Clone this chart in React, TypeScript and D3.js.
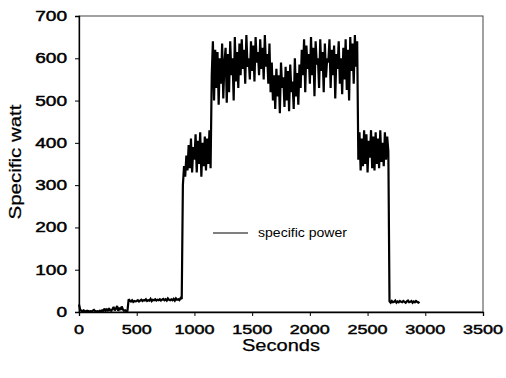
import React, { useEffect, useRef } from "react";
import * as d3 from "d3";

// specific power, one reading every 10 s starting at t = 0
const sampleStep = 10;
const watts = [
  18, 6, 3, 2, 4, 2, 1, 3, 2, 1,
  2, 1, 3, 5, 2, 1, 2, 1, 3, 2,
  4, 2, 8, 3, 6, 2, 9, 4, 3, 7,
  12, 4, 8, 14, 3, 10, 5, 13, 6, 3,
  4, 2, 3, 30, 27, 25, 28, 24, 26, 25,
  26, 28, 25, 27, 29, 26, 28, 27, 30, 26,
  28, 27, 31, 26, 29, 28, 30, 27, 29, 28,
  30, 27, 29, 31, 28, 30, 27, 32, 29, 28,
  30, 28, 31, 27, 32, 29, 30, 28, 33, 31,
  300, 345, 320, 370, 335, 395, 340, 410, 330, 390,
  360, 420, 330, 405, 350, 425, 320, 400, 345, 415,
  335, 410, 350, 430, 340, 560, 640, 500, 620, 530,
  615, 490, 600, 540, 635, 505, 590, 625, 495, 610,
  520, 640, 560, 600, 500, 650, 545, 615, 530, 635,
  560, 645, 575, 620, 540, 655, 580, 600, 550, 640,
  570, 630, 545, 650, 590, 615, 560, 645, 575, 625,
  550, 655, 580, 610, 540, 635, 520, 590, 500, 560,
  480, 575, 510, 560, 470, 590, 530, 555, 485, 580,
  500, 570, 475, 585, 520, 545, 480, 600, 510, 565,
  490, 585, 530, 620, 560, 645, 520, 630, 575, 610,
  540, 650, 560, 625, 510, 640, 585, 600, 530, 645,
  570, 615, 520, 635, 555, 600, 590, 645, 530, 620,
  560, 630, 505, 610, 575, 640, 540, 600, 515, 625,
  550, 645, 525, 620, 500, 650, 570, 635, 540, 655,
  580, 640, 360, 425, 335, 410, 345, 430, 350, 420,
  330, 405, 365, 430, 340, 415, 335, 425, 350, 410,
  340, 430, 355, 400, 345, 425, 360, 415, 380, 25,
  22, 26, 23, 24, 27, 22, 25, 23, 26, 24,
  23, 26, 24, 22, 25, 27, 23, 24, 26, 22,
  25, 23, 26, 24, 22, 24,
];

const xTicks = [0, 500, 1000, 1500, 2000, 2500, 3000, 3500];
const yTicks = [0, 100, 200, 300, 400, 500, 600, 700];
const seriesName = "specific power";

export default function App() {
  const ref = useRef<SVGSVGElement | null>(null);

  useEffect(() => {
    const width = 506;
    const height = 378;
    const margin = { top: 16, right: 23, bottom: 66, left: 79 };
    const plotW = width - margin.left - margin.right;
    const plotH = height - margin.top - margin.bottom;
    const font = "'Liberation Sans', Arial, sans-serif";

    const svg = d3.select(ref.current);
    svg.selectAll("*").remove();

    const x = d3.scaleLinear().domain([0, 3500]).range([0, plotW]);
    const y = d3.scaleLinear().domain([0, 700]).range([plotH, 0]);

    const g = svg.append("g")
      .attr("transform", `translate(${margin.left},${margin.top})`);

    // frame
    g.append("rect")
      .attr("width", plotW)
      .attr("height", plotH)
      .attr("fill", "none")
      .attr("stroke", "#444")
      .attr("stroke-width", 1);

    const line = d3.line<number>()
      .x((d, i) => x(i * sampleStep))
      .y(d => y(d));

    g.append("path")
      .datum(watts)
      .attr("d", line)
      .attr("fill", "none")
      .attr("stroke", "#000")
      .attr("stroke-width", 2.2)
      .attr("stroke-linejoin", "miter")
      .attr("stroke-miterlimit", 2);

    const xAxis = g.append("g")
      .attr("transform", `translate(0,${plotH})`)
      .call(d3.axisBottom(x).tickValues(xTicks).tickSize(4).tickFormat(() => ""));
    xAxis.select(".domain").attr("stroke", "#000").attr("stroke-width", 1.3);

    const yAxis = g.append("g")
      .call(d3.axisLeft(y).tickValues(yTicks).tickSize(4).tickFormat(() => ""));
    yAxis.select(".domain").attr("stroke", "#000").attr("stroke-width", 1.3);

    const heavy = (sel: any) =>
      sel.attr("font-family", font)
        .attr("fill", "#000")
        .attr("stroke", "#000")
        .attr("stroke-width", 0.45)
        .attr("lengthAdjust", "spacingAndGlyphs");

    g.selectAll(".xlab")
      .data(xTicks)
      .enter()
      .append("text")
      .attr("x", d => x(d))
      .attr("y", plotH + 22)
      .attr("text-anchor", "middle")
      .attr("font-size", 13)
      .attr("textLength", d => String(d).length * 10)
      .call(heavy)
      .text(d => d);

    g.selectAll(".ylab")
      .data(yTicks)
      .enter()
      .append("text")
      .attr("x", -12)
      .attr("y", d => y(d) + 5)
      .attr("text-anchor", "end")
      .attr("font-size", 14)
      .attr("textLength", d => String(d).length * 10.6)
      .call(heavy)
      .text(d => d);

    svg.append("text")
      .attr("x", margin.left + plotW / 2)
      .attr("y", 351)
      .attr("text-anchor", "middle")
      .attr("font-size", 16)
      .attr("textLength", 78)
      .call(heavy)
      .attr("stroke-width", 0.25)
      .text("Seconds");

    svg.append("text")
      .attr("transform", "translate(21,162) rotate(-90)")
      .attr("text-anchor", "middle")
      .attr("font-size", 16)
      .attr("textLength", 115)
      .call(heavy)
      .attr("stroke-width", 0.25)
      .text("Specific watt");

    // legend
    svg.append("line")
      .attr("x1", 213)
      .attr("x2", 248)
      .attr("y1", 233)
      .attr("y2", 233)
      .attr("stroke", "#000")
      .attr("stroke-width", 1);

    svg.append("text")
      .attr("x", 258)
      .attr("y", 237)
      .attr("font-family", font)
      .attr("font-size", 13)
      .attr("textLength", 89)
      .attr("lengthAdjust", "spacingAndGlyphs")
      .text(seriesName);
  }, []);

  return (
    <svg
      ref={ref}
      width={506}
      height={378}
      style={{ position: "absolute", left: 0, top: 0, background: "#fff" }}
    />
  );
}
